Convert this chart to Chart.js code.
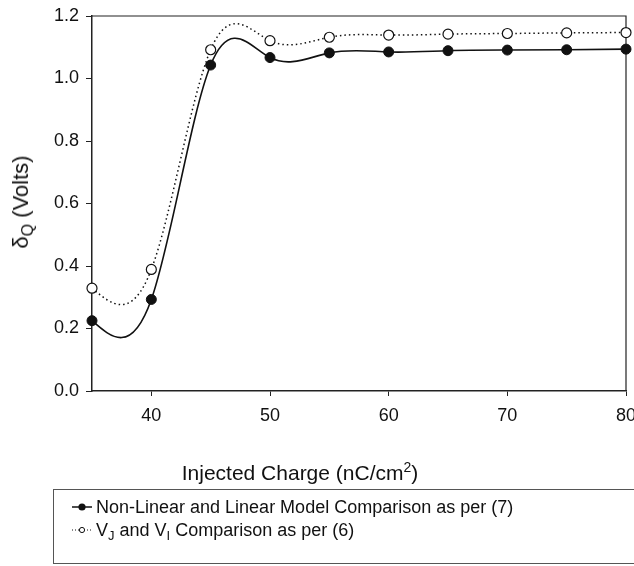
<!DOCTYPE html>
<html>
<head>
<meta charset="utf-8">
<script src="https://cdn.jsdelivr.net/npm/chart.js@4.4.1/dist/chart.umd.min.js"></script>
<style>
  body { margin: 0; background: #fff; }
  #wrap { position: relative; width: 634px; height: 566px; overflow: hidden;
          font-family: "Liberation Sans", Arial, sans-serif; color: #111; }
  #c { position: absolute; left: 0; top: 0; }
  .ytitle { position: absolute; left: 21px; top: 202px; white-space: nowrap; font-size: 22px;
            transform: translate(-50%, -50%) rotate(-90deg); }
  .xtitle { position: absolute; left: 300px; top: 473px; white-space: nowrap; font-size: 21px;
            transform: translate(-50%, -50%); }
  .xtitle sup { font-size: 14px; vertical-align: 8px; line-height: 0; }
  .ytitle sub { font-size: 16px; vertical-align: -5px; line-height: 0; }
  .legend { position: absolute; left: 53px; top: 489px; width: 640px; height: 75px;
            border: 1px solid #555; box-sizing: border-box; }
  .row { position: absolute; left: 17px; height: 20px; display: flex; align-items: center;
         font-size: 18px; white-space: nowrap; }
  .row svg { margin-right: 3px; }
  .row sub { font-size: 13px; vertical-align: -4px; line-height: 0; }
</style>
</head>
<body>
<div id="wrap">
  <canvas id="c" width="634" height="566"></canvas>
  <div class="ytitle">&delta;<sub>Q</sub> (Volts)</div>
  <div class="xtitle">Injected Charge (nC/cm<sup>2</sup>)</div>
  <div class="legend">
    <div class="row" style="top:7px">
      <svg width="22" height="10"><line x1="1" y1="5" x2="21" y2="5" stroke="#111" stroke-width="1.5"/><circle cx="11" cy="5" r="3.6" fill="#111"/></svg>
      <span>Non-Linear and Linear Model Comparison as per (7)</span>
    </div>
    <div class="row" style="top:30px">
      <svg width="22" height="10"><line x1="1" y1="5" x2="21" y2="5" stroke="#111" stroke-width="1" stroke-dasharray="1 2"/><circle cx="11" cy="5" r="2.6" fill="#fff" stroke="#111" stroke-width="1"/></svg>
      <span>V<sub>J</sub> and V<sub>I</sub> Comparison as per (6)</span>
    </div>
  </div>
</div>
<script>
// ---- data ----
const charge = [35, 40, 45, 50, 55, 60, 65, 70, 75, 80];
const nonLinear = [0.225, 0.293, 1.043, 1.067, 1.082, 1.085, 1.089, 1.091, 1.092, 1.094];
const vjvi = [0.329, 0.389, 1.092, 1.121, 1.132, 1.139, 1.142, 1.144, 1.146, 1.147];
const xTicks = [40, 50, 60, 70, 80];

// natural cubic spline (like the original plotting program), set as bezier control points
function naturalSpline(points) {
  const n = points.length - 1;
  if (n < 2) return;
  const xs = points.map(p => p.x), ys = points.map(p => p.y);
  const h = [];
  for (let i = 0; i < n; i++) h.push(xs[i + 1] - xs[i]);
  // tridiagonal system for second derivatives
  const a = [], b = [], c = [], d = [];
  for (let i = 1; i < n; i++) {
    a.push(h[i - 1]);
    b.push(2 * (h[i - 1] + h[i]));
    c.push(h[i]);
    d.push(6 * ((ys[i + 1] - ys[i]) / h[i] - (ys[i] - ys[i - 1]) / h[i - 1]));
  }
  const m = d.length;
  for (let i = 1; i < m; i++) {
    const w = a[i] / b[i - 1];
    b[i] -= w * c[i - 1];
    d[i] -= w * d[i - 1];
  }
  const M = new Array(n + 1).fill(0);
  M[m] = d[m - 1] / b[m - 1];
  for (let i = m - 2; i >= 0; i--) M[i + 1] = (d[i] - c[i] * M[i + 2]) / b[i];
  const slope = [];
  for (let i = 0; i < n; i++) slope.push((ys[i + 1] - ys[i]) / h[i] - h[i] * (2 * M[i] + M[i + 1]) / 6);
  slope.push((ys[n] - ys[n - 1]) / h[n - 1] + h[n - 1] * (M[n - 1] + 2 * M[n]) / 6);
  points.forEach((p, i) => {
    const hp = i > 0 ? h[i - 1] : 0, hn = i < n ? h[i] : 0;
    p.cp1x = p.x - hp / 3; p.cp1y = p.y - slope[i] * hp / 3;
    p.cp2x = p.x + hn / 3; p.cp2y = p.y + slope[i] * hn / 3;
  });
}

const splinePlugin = {
  id: 'spline',
  beforeDatasetDraw(chart, args) {
    const meta = args.meta;
    naturalSpline(meta.data);
    meta.dataset._pointsUpdated = true;
    meta.dataset._path = undefined;
  }
};

const framePlugin = {
  id: 'frame',
  beforeDatasetsDraw(chart) {
    const { ctx, chartArea: a } = chart;
    ctx.save();
    ctx.strokeStyle = '#222';
    ctx.lineWidth = 1.2;
    ctx.beginPath();
    ctx.moveTo(a.left, a.top);
    ctx.lineTo(a.right, a.top);
    ctx.lineTo(a.right, a.bottom);
    ctx.stroke();
    ctx.restore();
  }
};

const font = { family: '"Liberation Sans", Arial, sans-serif', size: 18 };

new Chart(document.getElementById('c'), {
  type: 'line',
  data: {
    datasets: [
      {
        label: 'Non-Linear and Linear Model Comparison as per (7)',
        data: charge.map((x, i) => ({ x, y: nonLinear[i] })),
        borderColor: '#111', borderWidth: 1.6,
        pointRadius: 5, pointBackgroundColor: '#111', pointBorderColor: '#111', pointBorderWidth: 1,
        tension: 0.4, clip: false
      },
      {
        label: 'VJ and VI Comparison as per (6)',
        data: charge.map((x, i) => ({ x, y: vjvi[i] })),
        borderColor: '#111', borderWidth: 1.5, borderDash: [1.5, 3],
        pointRadius: 5, pointBackgroundColor: '#fff', pointBorderColor: '#111', pointBorderWidth: 1.2,
        tension: 0.4, clip: false
      }
    ]
  },
  options: {
    responsive: false,
    animation: false,
    events: [],
    layout: { padding: { left: 0, top: 16, right: 8, bottom: 0 } },
    plugins: { legend: { display: false }, tooltip: { enabled: false } },
    scales: {
      x: {
        type: 'linear', min: 35, max: 80,
        afterBuildTicks: s => { s.ticks = xTicks.map(v => ({ value: v })); },
        afterFit: s => { s.height = 175; s.paddingRight = 0; s.paddingLeft = 0; },
        ticks: { font, color: '#111', padding: 9, callback: v => String(v) },
        grid: { drawOnChartArea: false, drawTicks: true, tickLength: 5, color: '#222', lineWidth: 1 },
        border: { display: true, color: '#222', width: 1.5 }
      },
      y: {
        min: 0, max: 1.2,
        afterFit: s => { s.width = 92; s.paddingTop = 0; s.paddingBottom = 0; },
        ticks: { stepSize: 0.2, font, color: '#111', padding: 7, callback: v => v.toFixed(1) },
        grid: { drawOnChartArea: false, drawTicks: true, tickLength: 6, color: '#222', lineWidth: 1 },
        border: { display: true, color: '#222', width: 1.5 }
      }
    }
  },
  plugins: [splinePlugin, framePlugin]
});
</script>
</body>
</html>
